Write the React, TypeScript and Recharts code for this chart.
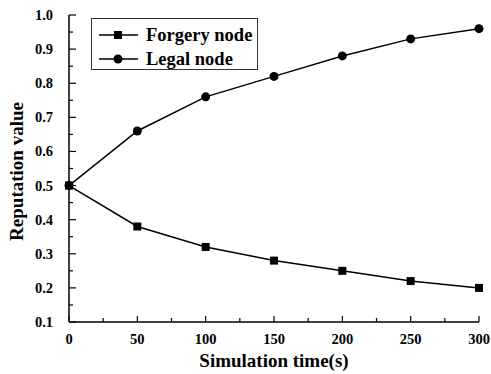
import { LineChart, Line, XAxis, YAxis } from 'recharts';

const times = [0, 50, 100, 150, 200, 250, 300];
const forgery = [0.5, 0.38, 0.32, 0.28, 0.25, 0.22, 0.2];
const legal = [0.5, 0.66, 0.76, 0.82, 0.88, 0.93, 0.96];
const xTicks = [0, 25, 50, 75, 100, 125, 150, 175, 200, 225, 250, 275, 300];
const yTicks = [0.1, 0.15, 0.2, 0.25, 0.3, 0.35, 0.4, 0.45, 0.5, 0.55, 0.6, 0.65, 0.7, 0.75, 0.8, 0.85, 0.9, 0.95, 1.0];
const seriesNames = ['Forgery node', 'Legal node'];

const data = times.map((t, i) => ({ t, forgery: forgery[i], legal: legal[i] }));

const FONT = '"Liberation Serif", "Times New Roman", serif';
const GAP = 14;

function XTick({ x, y, payload }: any) {
  const major = payload.value % 50 === 0;
  const axisY = y - GAP;
  return (
    <g>
      <line x1={x} x2={x} y1={axisY} y2={axisY - (major ? 6 : 4)} stroke="#000" strokeWidth={1.2} />
      {major && (
        <text x={x} y={axisY + 22} textAnchor="middle" fontFamily={FONT} fontWeight="bold" fontSize={14.5} fill="#000">
          {payload.value}
        </text>
      )}
    </g>
  );
}

function YTick({ x, y, payload }: any) {
  const v = Math.round(payload.value * 100);
  const major = v % 10 === 0;
  const axisX = x + GAP;
  return (
    <g>
      <line x1={axisX} x2={axisX + (major ? 7 : 4)} y1={y} y2={y} stroke="#000" strokeWidth={1.2} />
      {major && (
        <text x={axisX - 16} y={y + 5} textAnchor="end" fontFamily={FONT} fontWeight="bold" fontSize={14.5} fill="#000">
          {payload.value.toFixed(1)}
        </text>
      )}
    </g>
  );
}

function YTitle({ viewBox }: any) {
  const cx = viewBox.x + 16;
  const cy = viewBox.y + viewBox.height / 2 + 3;
  return (
    <text x={cx} y={cy} transform={`rotate(-90 ${cx} ${cy})`} textAnchor="middle" dominantBaseline="central"
      fontFamily={FONT} fontWeight="bold" fontSize={19} fill="#000">
      Reputation value
    </text>
  );
}

function Square({ cx, cy }: any) {
  return <rect x={cx - 4} y={cy - 4} width={8} height={8} fill="#000" />;
}

function Dot({ cx, cy }: any) {
  return <circle cx={cx} cy={cy} r={4.5} fill="#000" />;
}

function LegendBox() {
  return (
    <div style={{ position: 'absolute', left: 91, top: 18, width: 167, height: 52, border: '1px solid #333', background: '#fff', boxSizing: 'border-box' }}>
      <svg width={165} height={50} style={{ overflow: 'visible' }}>
        {seriesNames.map((name, i) => {
          const cy = 16 + i * 24;
          return (
            <g key={name}>
              <line x1={7} x2={46} y1={cy} y2={cy} stroke="#000" strokeWidth={1.5} />
              {i === 0 ? <rect x={22} y={cy - 4} width={8} height={8} fill="#000" /> : <circle cx={26} cy={cy} r={4.5} fill="#000" />}
              <text x={54} y={cy + 6} fontFamily={FONT} fontWeight="bold" fontSize={18.5} fill="#000">{name}</text>
            </g>
          );
        })}
      </svg>
    </div>
  );
}

export default function App() {
  return (
    <div style={{ position: 'absolute', left: 0, top: 0, width: 491, height: 374, background: '#fff' }}>
      <LineChart width={491} height={374} data={data} margin={{ top: 15, right: 12, bottom: 22, left: 0 }}>
        <XAxis
          dataKey="t"
          type="number"
          domain={[0, 300]}
          ticks={xTicks}
          interval={0}
          tickSize={0}
          tickMargin={GAP}
          tickLine={false}
          axisLine={{ stroke: '#000', strokeWidth: 1.5 }}
          tick={<XTick />}
          label={{ value: 'Simulation time(s)', position: 'bottom', offset: 2, fontFamily: FONT, fontWeight: 'bold', fontSize: 19, fill: '#000' }}
        />
        <YAxis
          width={69}
          type="number"
          domain={[0.1, 1.0]}
          ticks={yTicks}
          interval={0}
          tickSize={0}
          tickMargin={GAP}
          tickLine={false}
          axisLine={{ stroke: '#000', strokeWidth: 1.5 }}
          tick={<YTick />}
          label={<YTitle />}
        />
        <Line dataKey="forgery" name={seriesNames[0]} stroke="#000" strokeWidth={1.5} dot={<Square />} activeDot={false} isAnimationActive={false} />
        <Line dataKey="legal" name={seriesNames[1]} stroke="#000" strokeWidth={1.5} dot={<Dot />} activeDot={false} isAnimationActive={false} />
      </LineChart>
      <LegendBox />
    </div>
  );
}
